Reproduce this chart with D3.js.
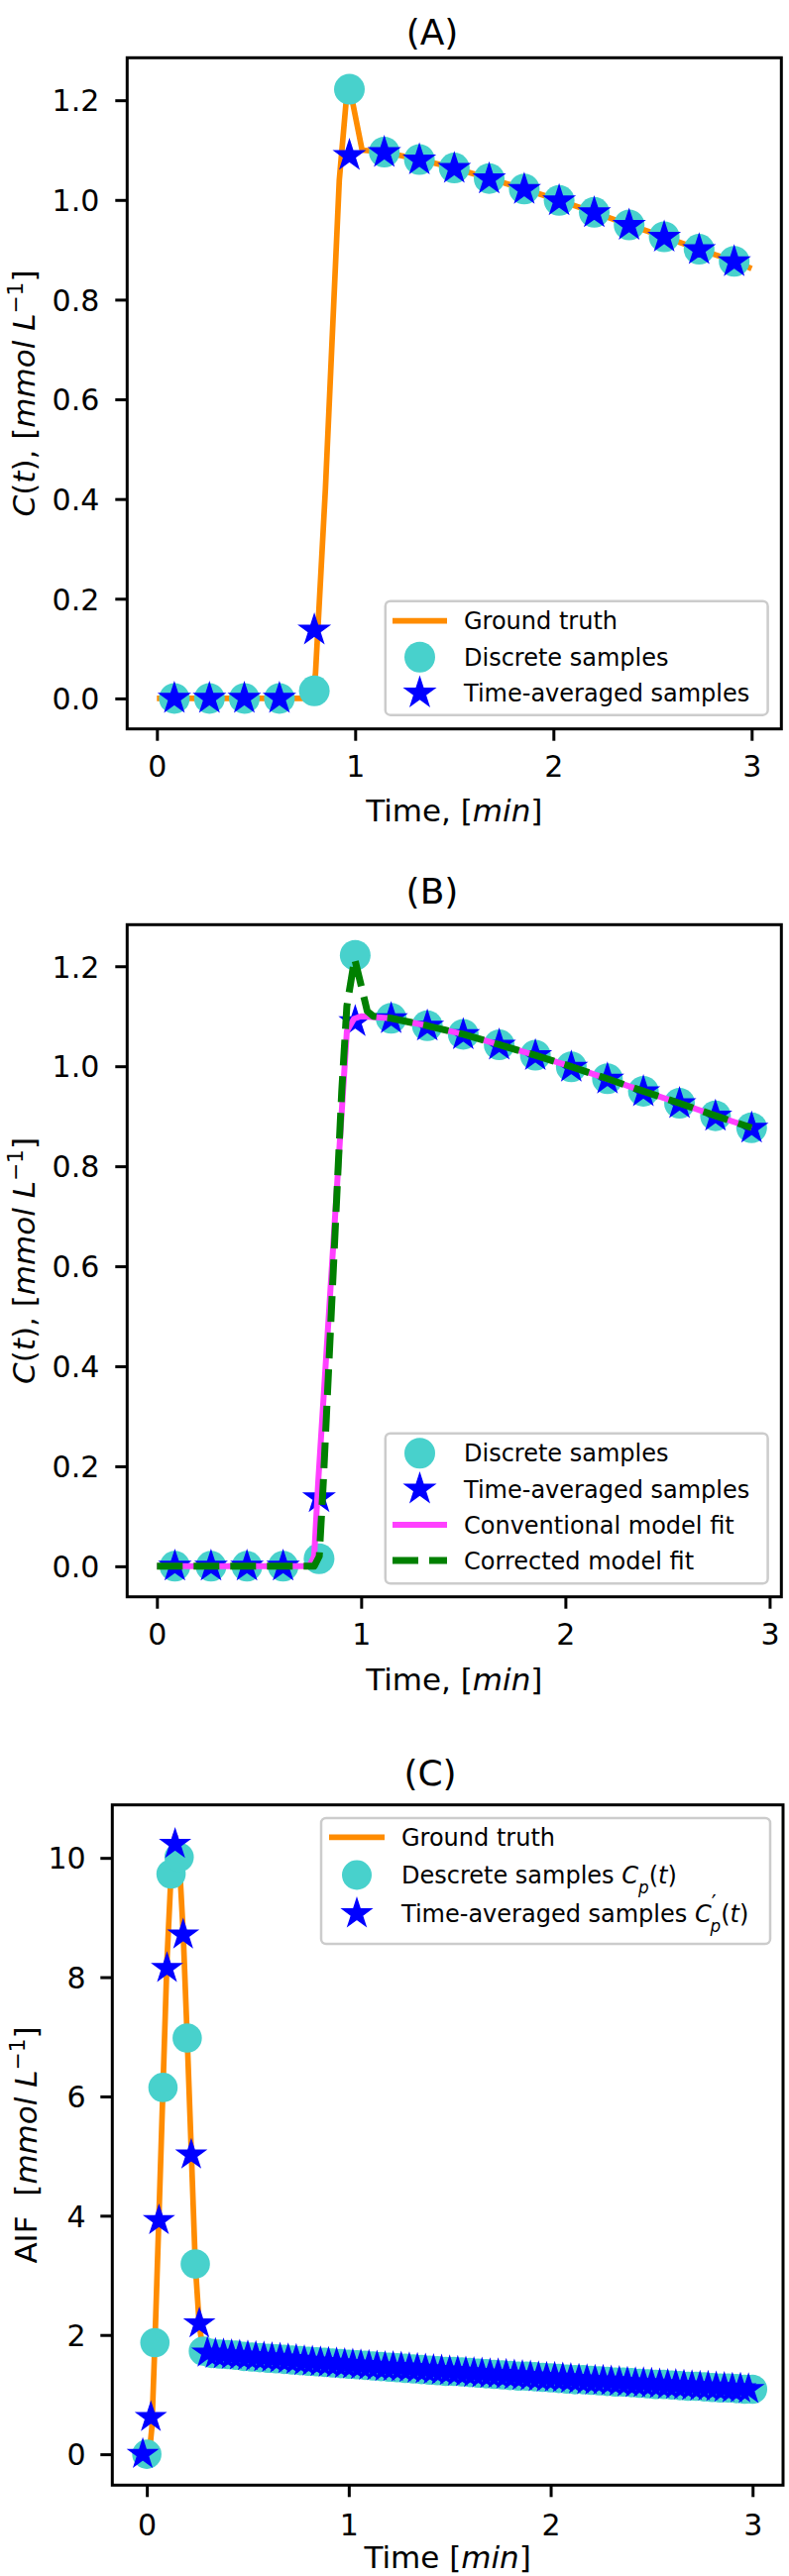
<!DOCTYPE html>
<html>
<head>
<meta charset="utf-8">
<script src="https://cdn.jsdelivr.net/npm/d3@7"></script>
<style>
  body { margin: 0; background: #fff; }
  svg { display: block; font-family: "DejaVu Sans", sans-serif; }
  text { white-space: pre; }
</style>
</head>
<body>
<div id="figure"></div>
<script>
// ---- tick labels ----
const time_ticks = [0, 1, 2, 3];
const conc_ticks = [0, 0.2, 0.4, 0.6, 0.8, 1.0, 1.2];
const aif_ticks = [0, 2, 4, 6, 8, 10];

// ---- panels A and B: tissue curve samples ----
const sample_time = [0.088, 0.265, 0.441, 0.618, 0.794, 0.971, 1.147, 1.324, 1.500,
  1.676, 1.853, 2.029, 2.206, 2.382, 2.559, 2.735, 2.912];
const discrete_conc = [0, 0, 0, 0, 0.015, 1.222, 1.096, 1.081, 1.064,
  1.043, 1.022, 0.999, 0.975, 0.950, 0.926, 0.901, 0.877];
const averaged_conc = [0, 0, 0, 0, 0.137, 1.089, 1.095, 1.080, 1.063,
  1.042, 1.021, 0.998, 0.974, 0.949, 0.925, 0.900, 0.876];

// ground truth (A)
const gt_a_time = [0, 0.76, 0.785, 0.80, 0.85, 0.92, 0.955, 0.968, 0.985, 1.035,
  1.147, 1.324, 1.500, 1.676, 1.853, 2.029, 2.206, 2.382, 2.559, 2.735, 2.912, 3.0];
const gt_a_conc = [0, 0, 0.01, 0.05, 0.42, 1.04, 1.20, 1.224, 1.20, 1.10,
  1.096, 1.081, 1.064, 1.043, 1.022, 0.999, 0.975, 0.950, 0.926, 0.901, 0.877, 0.862];

// model fits (B)
const conv_time = [0, 0.745, 0.77, 0.79, 0.93, 0.965, 1.0,
  1.147, 1.324, 1.500, 1.676, 1.853, 2.029, 2.206, 2.382, 2.559, 2.735, 2.912];
const conv_conc = [0, 0, 0.02, 0.17, 1.07, 1.095, 1.10,
  1.096, 1.081, 1.064, 1.043, 1.022, 0.999, 0.975, 0.950, 0.926, 0.901, 0.877];
const corr_time = [0, 0.77, 0.795, 0.815, 0.905, 0.93, 0.968, 0.995, 1.03, 1.06,
  1.147, 1.324, 1.500, 1.676, 1.853, 2.029, 2.206, 2.382, 2.559, 2.735, 2.912];
const corr_conc = [0, 0, 0.02, 0.17, 0.95, 1.12, 1.215, 1.17, 1.11, 1.10,
  1.096, 1.081, 1.064, 1.043, 1.022, 0.999, 0.975, 0.950, 0.926, 0.901, 0.877];

// ---- panel C: arterial input function ----
const aif_gt_time = [0, 0.015, 0.025, 0.04, 0.06, 0.08, 0.10, 0.12, 0.14, 0.16, 0.18,
  0.20, 0.22, 0.24, 0.26, 0.28, 0.30, 0.5, 1.0, 1.5, 2.0, 2.5, 3.0];
const aif_gt_conc = [0, 0.1, 0.45, 1.87, 4.0, 6.15, 8.3, 9.73, 10.37, 10.01, 8.75,
  6.98, 5.1, 3.19, 2.15, 1.73, 1.69, 1.64, 1.51, 1.39, 1.28, 1.18, 1.085];

const aif_sample_time = [0, 0.04, 0.08, 0.12, 0.16, 0.20, 0.24, 0.28, 0.32, 0.36,
  0.40, 0.44, 0.48, 0.52, 0.56, 0.60, 0.64, 0.68, 0.72, 0.76, 0.80, 0.84, 0.88,
  0.92, 0.96, 1.00, 1.04, 1.08, 1.12, 1.16, 1.20, 1.24, 1.28, 1.32, 1.36, 1.40,
  1.44, 1.48, 1.52, 1.56, 1.60, 1.64, 1.68, 1.72, 1.76, 1.80, 1.84, 1.88, 1.92,
  1.96, 2.00, 2.04, 2.08, 2.12, 2.16, 2.20, 2.24, 2.28, 2.32, 2.36, 2.40, 2.44,
  2.48, 2.52, 2.56, 2.60, 2.64, 2.68, 2.72, 2.76, 2.80, 2.84, 2.88, 2.92, 2.96, 3.00];
const aif_discrete = [0, 1.87, 6.15, 9.73, 10.01, 6.98, 3.19, 1.73, 1.69, 1.68,
  1.67, 1.66, 1.64, 1.63, 1.62, 1.61, 1.60, 1.59, 1.58, 1.57, 1.56, 1.55, 1.54,
  1.53, 1.52, 1.51, 1.50, 1.49, 1.48, 1.47, 1.46, 1.45, 1.44, 1.43, 1.42, 1.41,
  1.40, 1.39, 1.39, 1.38, 1.37, 1.36, 1.35, 1.34, 1.33, 1.32, 1.31, 1.31, 1.30,
  1.29, 1.28, 1.27, 1.26, 1.25, 1.25, 1.24, 1.23, 1.22, 1.21, 1.21, 1.20, 1.19,
  1.18, 1.17, 1.17, 1.16, 1.15, 1.14, 1.14, 1.13, 1.12, 1.11, 1.11, 1.10, 1.09, 1.09];

const aif_avg_time = [-0.02, 0.02, 0.06, 0.10, 0.14, 0.18, 0.22, 0.26, 0.30, 0.34,
  0.38, 0.42, 0.46, 0.50, 0.54, 0.58, 0.62, 0.66, 0.70, 0.74, 0.78, 0.82, 0.86,
  0.90, 0.94, 0.98, 1.02, 1.06, 1.10, 1.14, 1.18, 1.22, 1.26, 1.30, 1.34, 1.38,
  1.42, 1.46, 1.50, 1.54, 1.58, 1.62, 1.66, 1.70, 1.74, 1.78, 1.82, 1.86, 1.90,
  1.94, 1.98, 2.02, 2.06, 2.10, 2.14, 2.18, 2.22, 2.26, 2.30, 2.34, 2.38, 2.42,
  2.46, 2.50, 2.54, 2.58, 2.62, 2.66, 2.70, 2.74, 2.78, 2.82, 2.86, 2.90, 2.94, 2.98];
const aif_averaged = [0, 0.62, 3.92, 8.15, 10.23, 8.71, 5.02, 2.19, 1.70, 1.68,
  1.67, 1.66, 1.65, 1.64, 1.63, 1.62, 1.61, 1.60, 1.59, 1.58, 1.56, 1.55, 1.54,
  1.53, 1.52, 1.51, 1.50, 1.49, 1.48, 1.47, 1.46, 1.46, 1.45, 1.44, 1.43, 1.42,
  1.41, 1.40, 1.39, 1.38, 1.37, 1.36, 1.35, 1.34, 1.34, 1.33, 1.32, 1.31, 1.30,
  1.29, 1.28, 1.28, 1.27, 1.26, 1.25, 1.24, 1.23, 1.23, 1.22, 1.21, 1.20, 1.19,
  1.19, 1.18, 1.17, 1.16, 1.16, 1.15, 1.14, 1.13, 1.13, 1.12, 1.11, 1.10, 1.10, 1.09];

const ORANGE = "#ff8c00";
const TURQ = "#48d1cc";
const BLUE = "#0000ff";
const MAGENTA = "#ff40ff";
const GREEN = "#008000";
const FONT = "DejaVu Sans";

const svg = d3.select("#figure").append("svg")
  .attr("width", 796)
  .attr("height", 2600);

// matplotlib style 5% margins
const pad_extent = (values) => {
  const [lo, hi] = d3.extent(values);
  const m = (hi - lo) * 0.05;
  return [lo - m, hi + m];
};

const star_path = (r) => d3.symbol(d3.symbolStar, r * r / 0.8908130915292852)();

// text with italic / sub / super pieces (mathtext look-alike)
const add_rich = (text, parts) => {
  parts.forEach((p) => {
    const ts = text.append("tspan").text(p.t);
    if (p.i) ts.attr("font-style", "italic");
    if (p.sup) ts.attr("baseline-shift", "super").attr("font-size", p.size || "70%");
    if (p.sub) ts.attr("baseline-shift", "sub").attr("font-size", p.size || "70%");
    if (p.dx) ts.attr("dx", p.dx);
  });
  return text;
};

const draw_panel = (p) => {
  const x = d3.scaleLinear().domain(pad_extent(p.x_extent)).range([p.left, p.right]);
  const y = d3.scaleLinear().domain(pad_extent(p.y_extent)).range([p.bottom, p.top]);

  const g = svg.append("g").attr("id", "panel-" + p.id);

  g.append("clipPath").attr("id", "clip-" + p.id)
    .append("rect")
    .attr("x", p.left).attr("y", p.top)
    .attr("width", p.right - p.left).attr("height", p.bottom - p.top);

  const plot = g.append("g").attr("clip-path", `url(#clip-${p.id})`);

  // x axis
  const xa = g.append("g")
    .attr("transform", `translate(0,${p.bottom})`)
    .call(d3.axisBottom(x).tickValues(p.x_ticks).tickFormat(d3.format("d")).tickSize(12));
  xa.select(".domain").remove();
  xa.selectAll("line").attr("stroke", "#000").attr("stroke-width", 3);
  xa.selectAll("text")
    .attr("y", p.xtick_y).attr("dy", null)
    .attr("fill", "#000").attr("font-size", 30).attr("font-family", FONT);

  // y axis
  const ya = g.append("g")
    .attr("transform", `translate(${p.left},0)`)
    .call(d3.axisLeft(y).tickValues(p.y_ticks).tickFormat(p.y_format).tickSize(12));
  ya.select(".domain").remove();
  ya.selectAll("line").attr("stroke", "#000").attr("stroke-width", 3);
  ya.selectAll("text")
    .attr("x", -p.ytick_gap).attr("dy", "0.36em")
    .attr("fill", "#000").attr("font-size", 30).attr("font-family", FONT);

  // title
  g.append("text")
    .attr("x", p.title_x).attr("y", p.title_y)
    .attr("text-anchor", "middle")
    .attr("font-size", 36)
    .text(p.title);

  // x label
  add_rich(g.append("text")
    .attr("x", (p.left + p.right) / 2).attr("y", p.xlabel_y)
    .attr("text-anchor", "middle")
    .attr("font-size", 31), p.xlabel);

  // y label
  add_rich(g.append("text")
    .attr("transform", `translate(${p.ylabel_x},${(p.top + p.bottom) / 2}) rotate(-90)`)
    .attr("dy", "0.36em")
    .attr("text-anchor", "middle")
    .attr("font-size", 31), p.ylabel);

  return { x, y, g, plot, p };
};

const draw_line = (panel, xs, ys, style) => {
  const line = d3.line().x((d) => panel.x(d[0])).y((d) => panel.y(d[1]));
  panel.plot.append("path")
    .datum(d3.zip(xs, ys))
    .attr("d", line)
    .attr("fill", "none")
    .attr("stroke", style.color)
    .attr("stroke-width", style.width)
    .attr("stroke-linejoin", "round")
    .attr("stroke-dasharray", style.dash || null);
};

const draw_circles = (panel, xs, ys, r) => {
  panel.plot.append("g")
    .selectAll("circle")
    .data(d3.zip(xs, ys))
    .enter()
    .append("circle")
    .attr("cx", (d) => panel.x(d[0]))
    .attr("cy", (d) => panel.y(d[1]))
    .attr("r", r)
    .attr("fill", TURQ);
};

const draw_stars = (panel, xs, ys, r) => {
  panel.plot.append("g")
    .selectAll("path")
    .data(d3.zip(xs, ys))
    .enter()
    .append("path")
    .attr("d", star_path(r))
    .attr("transform", (d) => `translate(${panel.x(d[0])},${panel.y(d[1])})`)
    .attr("fill", BLUE)
    .attr("stroke", BLUE)
    .attr("stroke-width", 1.5);
};

const draw_frame = (panel) => {
  const p = panel.p;
  panel.g.append("rect")
    .attr("x", p.left).attr("y", p.top)
    .attr("width", p.right - p.left).attr("height", p.bottom - p.top)
    .attr("fill", "none")
    .attr("stroke", "#000")
    .attr("stroke-width", 3);
};

const draw_legend = (panel, lg) => {
  const g = panel.g.append("g");
  g.append("rect")
    .attr("x", lg.x0).attr("y", lg.y0)
    .attr("width", lg.x1 - lg.x0).attr("height", lg.y1 - lg.y0)
    .attr("rx", 5)
    .attr("fill", "#fff").attr("fill-opacity", 0.8)
    .attr("stroke", "#cccccc").attr("stroke-width", 2.5);

  lg.entries.forEach((e, i) => {
    const cy = lg.rows[i];
    if (e.kind === "line") {
      g.append("line")
        .attr("x1", lg.h0).attr("x2", lg.h1).attr("y1", cy).attr("y2", cy)
        .attr("stroke", e.color).attr("stroke-width", e.width)
        .attr("stroke-dasharray", e.dash || null);
    } else if (e.kind === "circle") {
      g.append("circle")
        .attr("cx", (lg.h0 + lg.h1) / 2).attr("cy", cy).attr("r", e.r)
        .attr("fill", TURQ);
    } else {
      g.append("path")
        .attr("d", star_path(e.r))
        .attr("transform", `translate(${(lg.h0 + lg.h1) / 2},${cy})`)
        .attr("fill", BLUE).attr("stroke", BLUE).attr("stroke-width", 1.5);
    }
    add_rich(g.append("text")
      .attr("x", lg.tx).attr("y", cy)
      .attr("dy", "0.36em")
      .attr("font-size", 24), e.label);
  });
};

const time_label = [{ t: "Time, [" }, { t: "min", i: true }, { t: "]" }];
const conc_label = [{ t: "C", i: true }, { t: "(" }, { t: "t", i: true }, { t: "), [" },
  { t: "mmol", i: true }, { t: " " }, { t: "L", i: true }, { t: "\u22121", sup: true }, { t: "]" }];

/*
 * PANEL (A)
 * */
const panel_a = draw_panel({
  id: "a", left: 128.3, right: 788.3, top: 58.3, bottom: 735.7,
  x_extent: gt_a_time, y_extent: gt_a_conc.concat(discrete_conc, averaged_conc),
  x_ticks: time_ticks, y_ticks: conc_ticks, y_format: d3.format(".1f"),
  xtick_y: 48.5, ytick_gap: 28,
  title: "(A)", title_x: 436, title_y: 45,
  xlabel: time_label, xlabel_y: 829,
  ylabel: conc_label, ylabel_x: 24
});
draw_line(panel_a, gt_a_time, gt_a_conc, { color: ORANGE, width: 5.7 });
draw_circles(panel_a, sample_time, discrete_conc, 15.5);
draw_stars(panel_a, sample_time, averaged_conc, 15.5);
draw_frame(panel_a);
draw_legend(panel_a, {
  x0: 388.8, y0: 606.7, x1: 774.6, y1: 721.7,
  h0: 396, h1: 451, tx: 468, rows: [626.7, 663.3, 699.5],
  entries: [
    { kind: "line", color: ORANGE, width: 5.7, label: [{ t: "Ground truth" }] },
    { kind: "circle", r: 15.5, label: [{ t: "Discrete samples" }] },
    { kind: "star", r: 15.5, label: [{ t: "Time-averaged samples" }] }
  ]
});

/*
 * PANEL (B)
 * */
const panel_b = draw_panel({
  id: "b", left: 128.3, right: 788.3, top: 933.3, bottom: 1611.7,
  x_extent: conv_time.concat(corr_time, sample_time),
  y_extent: conv_conc.concat(corr_conc, discrete_conc, averaged_conc),
  x_ticks: time_ticks, y_ticks: conc_ticks, y_format: d3.format(".1f"),
  xtick_y: 48.8, ytick_gap: 28,
  title: "(B)", title_x: 436, title_y: 911.5,
  xlabel: time_label, xlabel_y: 1706,
  ylabel: conc_label, ylabel_x: 24
});
draw_circles(panel_b, sample_time, discrete_conc, 15.5);
draw_stars(panel_b, sample_time, averaged_conc, 15.5);
draw_line(panel_b, conv_time, conv_conc, { color: MAGENTA, width: 6 });
draw_line(panel_b, corr_time, corr_conc, { color: GREEN, width: 7, dash: "26,11" });
draw_frame(panel_b);
draw_legend(panel_b, {
  x0: 388.8, y0: 1446.7, x1: 774.6, y1: 1598.3,
  h0: 396, h1: 451, tx: 468, rows: [1466.7, 1503, 1539, 1575],
  entries: [
    { kind: "circle", r: 15.5, label: [{ t: "Discrete samples" }] },
    { kind: "star", r: 15.5, label: [{ t: "Time-averaged samples" }] },
    { kind: "line", color: MAGENTA, width: 6, label: [{ t: "Conventional model fit" }] },
    { kind: "line", color: GREEN, width: 7, dash: "26,11", label: [{ t: "Corrected model fit" }] }
  ]
});

/*
 * PANEL (C)
 * */
const panel_c = draw_panel({
  id: "c", left: 113.3, right: 790, top: 1821.7, bottom: 2508.3,
  x_extent: aif_gt_time.concat(aif_sample_time, aif_avg_time),
  y_extent: aif_gt_conc.concat(aif_discrete, aif_averaged),
  x_ticks: time_ticks, y_ticks: aif_ticks, y_format: d3.format("d"),
  xtick_y: 51, ytick_gap: 26.6,
  title: "(C)", title_x: 434, title_y: 1801.5,
  xlabel: [{ t: "Time [" }, { t: "min", i: true }, { t: "]" }], xlabel_y: 2592,
  ylabel: [{ t: "AIF  [" }, { t: "mmol", i: true }, { t: " " }, { t: "L", i: true },
    { t: "\u22121", sup: true }, { t: "]" }],
  ylabel_x: 26
});
draw_line(panel_c, aif_gt_time, aif_gt_conc, { color: ORANGE, width: 5.7 });
draw_circles(panel_c, aif_sample_time, aif_discrete, 14.8);
draw_stars(panel_c, aif_avg_time, aif_averaged, 14.8);
draw_frame(panel_c);
draw_legend(panel_c, {
  x0: 324, y0: 1835, x1: 777, y1: 1962,
  h0: 332, h1: 388, tx: 405, rows: [1854.3, 1892.5, 1931.5],
  entries: [
    { kind: "line", color: ORANGE, width: 5.7, label: [{ t: "Ground truth" }] },
    { kind: "circle", r: 15, label: [{ t: "Descrete samples " }, { t: "C", i: true },
      { t: "p", i: true, sub: true }, { t: "(" }, { t: "t", i: true }, { t: ")" }] },
    { kind: "star", r: 15, label: [{ t: "Time-averaged samples " }, { t: "C", i: true },
      { t: "\u2032", sup: true, size: "90%" }, { t: "p", i: true, sub: true, dx: -6 }, { t: "(" },
      { t: "t", i: true }, { t: ")" }] }
  ]
});
</script>
</body>
</html>
